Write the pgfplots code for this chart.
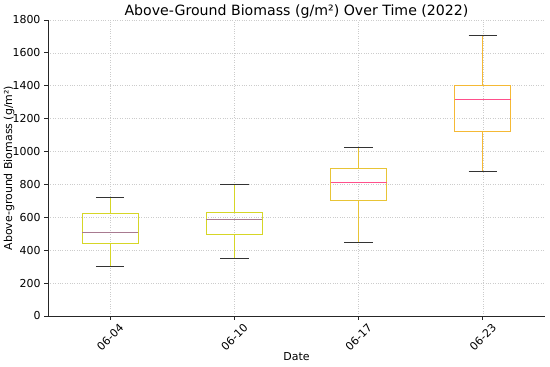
\documentclass[border=0pt]{standalone}
\usepackage{pgfplots}
\pgfplotsset{compat=1.18}
\usepgfplotslibrary{statistics}
\usepackage{fontspec}
\setmainfont{DejaVu Sans}
\definecolor{ylw}{HTML}{D6D626}
\definecolor{ylo}{HTML}{E8C436}
\definecolor{org}{HTML}{F5B935}
\definecolor{mauve}{HTML}{A87A90}
\definecolor{pinkm}{HTML}{FF4F8B}
\definecolor{gridc}{HTML}{CCCCCC}
\pgfplotsset{
  mybox/.style 2 args={
    boxplot/draw direction=y,
    boxplot/box extend=0.45,
    boxplot/whisker extend=0.23,
    draw=#1, line width=1pt, solid, mark=none,
    boxplot/every box/.style={draw=#1},
    boxplot/every whisker/.style={draw=#1},
    boxplot/every median/.style={draw=#2, line width=1pt},
    boxplot/draw/lower whisker/.code={
      \draw[draw=#1, line width=1pt] (boxplot box cs:\pgfplotsboxplotvalue{lower whisker},0.5) -- (boxplot box cs:\pgfplotsboxplotvalue{lower quartile},0.5);
      \draw[draw=black!80, line width=1pt] (boxplot whisker cs:\pgfplotsboxplotvalue{lower whisker},0) -- (boxplot whisker cs:\pgfplotsboxplotvalue{lower whisker},1);
    },
    boxplot/draw/upper whisker/.code={
      \draw[draw=#1, line width=1pt] (boxplot box cs:\pgfplotsboxplotvalue{upper whisker},0.5) -- (boxplot box cs:\pgfplotsboxplotvalue{upper quartile},0.5);
      \draw[draw=black!80, line width=1pt] (boxplot whisker cs:\pgfplotsboxplotvalue{upper whisker},0) -- (boxplot whisker cs:\pgfplotsboxplotvalue{upper whisker},1);
    },
  }
}
\begin{document}
\begin{tikzpicture}
\begin{axis}[
  scale only axis,
  width=497bp, height=296bp,
  xmin=0.5, xmax=4.5, ymin=0, ymax=1800,
  axis lines=left,
  axis line style={-, black!85, line width=0.8pt},
  xtick={1,2,3,4},
  xticklabels={\rotatebox{45}{06-04},\rotatebox{45}{06-10},\rotatebox{45}{06-17},\rotatebox{45}{06-23}},
  ytick={0,200,400,600,800,1000,1200,1400,1600,1800},
  tick style={black!85, line width=0.8pt},
  tick align=outside,
  major tick length=3.5bp,
  grid=major,
  grid style={gridc, dotted, line width=0.6pt},
  /pgf/number format/assume math mode=true,
  /pgf/number format/1000 sep={},
  ticklabel style={font=\fontsize{11}{13}\selectfont, black},
  yticklabel style={xshift=-0.5bp},
  xlabel={Date},
  ylabel={Above-ground Biomass (g/m²)},
  label style={font=\fontsize{11}{13}\selectfont},
  xlabel style={at={([yshift=-41bp]axis description cs:0.5,0)}, anchor=center},
  ylabel style={at={([xshift=-39bp]axis description cs:0,0.5)}, anchor=center},
  title={Above-Ground Biomass (g/m²) Over Time (2022)},
  title style={font=\fontsize{14.2}{16}\selectfont, at={(axis description cs:0.5,1)}, anchor=base, yshift=-1.3bp},
  clip=false,
]
\addplot+[mybox={ylw}{mauve}, boxplot prepared={draw position=1, lower whisker=300, lower quartile=443, median=510, upper quartile=622, upper whisker=722}] coordinates {};
\addplot+[mybox={ylw}{mauve}, boxplot prepared={draw position=2, lower whisker=349, lower quartile=493, median=588, upper quartile=630, upper whisker=800}] coordinates {};
\addplot+[mybox={ylo}{pinkm}, boxplot prepared={draw position=3, lower whisker=450, lower quartile=700, median=813, upper quartile=898, upper whisker=1024}] coordinates {};
\addplot+[mybox={org}{pinkm}, boxplot prepared={draw position=4, lower whisker=876, lower quartile=1119, median=1314, upper quartile=1401, upper whisker=1703}] coordinates {};
\end{axis}
\pgfresetboundingbox
\path (-48bp,-51bp) rectangle (502bp,316bp);
\end{tikzpicture}
\end{document}
